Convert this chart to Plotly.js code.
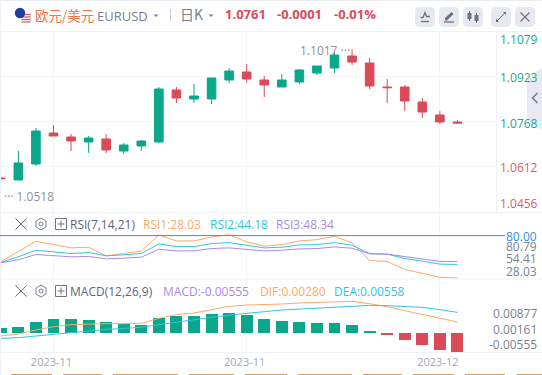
<!DOCTYPE html>
<html><head><meta charset="utf-8">
<script src="https://cdn.plot.ly/plotly-3.0.1.min.js"></script>
<style>html,body{margin:0;padding:0;background:#fff;overflow:hidden}#c{width:542px;height:375px}</style>
</head><body><div id="c"></div>
<script>
var idx=[0,1,2,3,4,5,6,7,8,9,10,11,12,13,14,15,16,17,18,19,20,21,22,23,24,25,26];
var opens=[1.05728,1.05659,1.06212,1.07283,1.07145,1.06972,1.07076,1.06661,1.06834,1.06972,1.08769,1.08458,1.08458,1.09115,1.09391,1.09115,1.08873,1.09046,1.09357,1.09530,1.09944,1.09702,1.08873,1.08873,1.08354,1.07905,1.07663];
var closes=[1.05705,1.06246,1.07352,1.07179,1.07007,1.07110,1.06696,1.06868,1.07007,1.08804,1.08493,1.08562,1.09184,1.09426,1.09149,1.08942,1.09115,1.09460,1.09599,1.09979,1.09737,1.08907,1.08850,1.08389,1.08009,1.07663,1.07629];
var highs=[1.05770,1.06660,1.07456,1.07560,1.07249,1.07179,1.07249,1.06938,1.07041,1.08873,1.08873,1.08977,1.09184,1.09530,1.09668,1.09253,1.09322,1.09495,1.09599,1.10083,1.10175,1.09875,1.09149,1.08942,1.08493,1.08043,1.07732];
var lows=[1.05680,1.05659,1.06143,1.07179,1.06661,1.06592,1.06592,1.06557,1.06661,1.06938,1.08320,1.08320,1.08285,1.09011,1.09011,1.08527,1.08873,1.08977,1.09288,1.09357,1.09633,1.08804,1.08320,1.08043,1.07802,1.07594,1.07594];
var rsi1=[47.90,60.06,73.04,68.99,64.93,65.74,55.20,58.04,60.87,80.75,73.45,73.45,78.31,81.15,72.23,66.96,68.99,73.45,75.07,79.12,71.01,49.52,48.30,38.57,33.71,28.84,28.03];
var rsi2=[47.09,53.98,62.09,60.06,58.04,59.25,55.20,56.42,58.04,69.80,66.55,66.55,70.20,71.42,67.77,64.93,65.74,68.58,68.99,71.42,68.17,58.04,57.23,51.95,48.71,45.06,44.65];
var rsi3=[46.68,50.33,56.82,55.20,53.98,54.39,51.55,52.36,53.58,63.31,61.28,61.28,64.12,64.93,62.90,61.28,62.09,63.71,64.12,66.15,64.52,57.63,57.23,53.98,51.14,48.30,48.30];
var macdBars=[0.00146,0.00175,0.00321,0.00409,0.00409,0.00380,0.00321,0.00263,0.00234,0.00438,0.00497,0.00497,0.00555,0.00584,0.00526,0.00409,0.00351,0.00321,0.00292,0.00292,0.00234,0.00058,-0.00058,-0.00205,-0.00351,-0.00497,-0.00555];
var dif=[-0.00088,-0.00029,0.00088,0.00185,0.00244,0.00263,0.00273,0.00273,0.00282,0.00429,0.00536,0.00584,0.00692,0.00779,0.00818,0.00828,0.00847,0.00877,0.00896,0.00925,0.00925,0.00857,0.00769,0.00653,0.00545,0.00419,0.00321];
var dea=[-0.00156,-0.00136,-0.00088,-0.00039,0.00019,0.00068,0.00107,0.00136,0.00166,0.00244,0.00321,0.00380,0.00458,0.00526,0.00584,0.00623,0.00672,0.00701,0.00731,0.00760,0.00789,0.00808,0.00799,0.00779,0.00750,0.00682,0.00604];
var dateTicks=[3,14,25];
var dateLabels=['2023-11','2023-11','2023-12'];
var priceTicks=[1.1079,1.0923,1.0768,1.0612,1.0456];
var priceLabels=['1.1079','1.0923','1.0768','1.0612','1.0456'];
var rsiLabels=['80.00','80.79','54.41','28.03'];
var macdLabels=['0.00877','0.00161','-0.00555'];

var W=542,H=375,GREEN='#0aa78a',RED='#da4b59',GRID='#f5f6fa',BORDER='#eff1f6';
var ORANGE='#fda866',CYAN='#33c5e0',PURPLE='#a88ae6',GRAY='#7b7f8e',LGRAY='#a3a6b6';
var FONT='"Open Sans","Noto Sans CJK SC",sans-serif';
function fx(x){return x/W} function fy(y){return 1-y/H}
function dom(a,b){return [1-b/H,1-a/H]}
var barColors=macdBars.map(function(v){return v>=0?GREEN:RED});
var xr=[-0.0456,28.23];
function line(y,color,name,xa,ya){return {type:'scatter',mode:'lines',x:idx,y:y,name:name,xaxis:xa,yaxis:ya,line:{color:color,width:1,shape:'linear'},hoverinfo:'skip',cliponaxis:true}}
var traces=[
 {type:'candlestick',x:idx,open:opens,high:highs,low:lows,close:closes,xaxis:'x',yaxis:'y',whiskerwidth:0,width:0.6,name:'EURUSD',
  increasing:{line:{color:GREEN,width:1},fillcolor:GREEN},decreasing:{line:{color:RED,width:1},fillcolor:RED}},
 line(rsi1,ORANGE,'RSI1','x2','y2'),line(rsi2,CYAN,'RSI2','x2','y2'),line(rsi3,PURPLE,'RSI3','x2','y2'),
 {type:'bar',x:idx,y:macdBars,name:'MACD',xaxis:'x3',yaxis:'y3',width:0.68,marker:{color:barColors,line:{width:0}}},
 line(dif,ORANGE,'DIF','x3','y3'),line(dea,CYAN,'DEA','x3','y3')
];
function xa(extra){var o={range:xr,domain:[0,496.6/W],showgrid:true,gridcolor:GRID,gridwidth:1,zeroline:false,showline:false,ticks:'',tickmode:'array',tickvals:dateTicks,ticktext:dateLabels,showticklabels:false,rangeslider:{visible:false},fixedrange:true};for(var k in extra)o[k]=extra[k];return o}
function ya(d,r,vals){return {domain:d,range:r,side:'right',showgrid:true,gridcolor:GRID,zeroline:false,showline:false,ticks:'',tickmode:'array',tickvals:vals,showticklabels:false,fixedrange:true}}

var shapes=[];
function hl(x0,x1,y,c,w){shapes.push({type:'line',xref:'paper',yref:'paper',x0:fx(x0),x1:fx(x1),y0:fy(y),y1:fy(y),line:{color:c,width:w||1}})}
function vl(x,y0,y1,c,w){shapes.push({type:'line',xref:'paper',yref:'paper',x0:fx(x),x1:fx(x),y0:fy(y0),y1:fy(y1),line:{color:c,width:w||1}})}
function pth(pts,fill,stroke,w,close){var s='';pts.forEach(function(p,i){s+=(i?'L':'M')+fx(p[0]).toFixed(5)+','+fy(p[1]).toFixed(5)});if(close)s+='Z';
 shapes.push({type:'path',xref:'paper',yref:'paper',path:s,fillcolor:fill||'rgba(0,0,0,0)',line:{color:stroke||'rgba(0,0,0,0)',width:w===undefined?1:w}})}
function rrect(x0,y0,x1,y1,r,c){var p=[],n=5;[[x1-r,y0+r,-90],[x1-r,y1-r,0],[x0+r,y1-r,90],[x0+r,y0+r,180]].forEach(function(a){for(var i=0;i<=n;i++){var t=(a[2]+i*90/n)*Math.PI/180;p.push([a[0]+r*Math.cos(t),a[1]+r*Math.sin(t)])}});pth(p,c,null,0,true)}
function circ(cx,cy,r,c,st){shapes.push({type:'circle',xref:'paper',yref:'paper',x0:fx(cx-r),x1:fx(cx+r),y0:fy(cy+r),y1:fy(cy-r),fillcolor:c,line:{color:st||c,width:st?1:0}})}
function rect(x0,y0,x1,y1,c){shapes.push({type:'rect',xref:'paper',yref:'paper',x0:fx(x0),x1:fx(x1),y0:fy(y0),y1:fy(y1),fillcolor:c,line:{width:0}})}

// frame
rect(0,0,W,1,'#e9ebf2'); rect(0,0,1,375,'#eef0f6');
hl(0,W,31.5,BORDER,1);hl(0,W,212.5,BORDER,1);hl(0,W,279,BORDER,1);hl(0,W,352.5,BORDER,1);
vl(496.5,32,212,BORDER,1);
// RSI 80 line
shapes.push({type:'line',xref:'paper',yref:'y2',x0:0,x1:fx(505),y0:80,y1:80,line:{color:'#3b8fe3',width:1}});
// side tab
pth([[542,68],[527,77],[527,120],[542,130]],'rgba(228,229,238,0.8)',null,0,true);
pth([[537.5,93],[532.5,98],[537.5,103]],null,'#73778a',1.5);
// flags
circ(26,18,5.2,'#f4f4f6');
[14.5,17,19.5,22].forEach(function(y){hl(21.5,30.7,y,'#d9596a',1.2)});
circ(20,13,5.2,'#1f3f9e');
// dropdown carets
pth([[153.5,14.5],[158.5,14.5],[156,17]],'#7b7f8e',null,0,true);
pth([[208.5,14.5],[213.5,14.5],[211,17]],'#7b7f8e',null,0,true);
vl(170.5,9,21,'#c9ccd6',1);
// toolbar buttons
[[415,435],[439,459],[463,483],[491,511],[515,535]].forEach(function(b){rrect(b[0],7,b[1],27,4,'#e6e9f0')});
var IC='#6d7182';
pth([[421,21.5],[429,21.5]],null,IC,1.3);
pth([[420.5,17.5],[423,17.5],[425,12.5],[426.5,16.5],[430,16.5]],null,IC,1.3);
pth([[444,22],[454,22]],null,IC,1.3);
pth([[445,20.5],[445,18],[451.5,12],[453.5,14],[447,20.5]],IC,null,0,true);
vl(469.5,11,21,IC,1);vl(476.5,13,23,IC,1);rect(467.5,13,471.5,19,IC);rect(474.5,15,478.5,21,IC);
pth([[496,22],[496,19],[499,22]],IC,null,0,true);pth([[506,12],[503,12],[506,15]],IC,null,0,true);
pth([[497,21],[505,13]],null,IC,1);
pth([[520.5,12.5],[529.5,21.5]],null,IC,1.1);pth([[529.5,12.5],[520.5,21.5]],null,IC,1.1);
// pane controls
function ctrl(y){
 pth([[15.5,y-5.5],[26.5,y+5.5]],null,'#6d7182',1);pth([[26.5,y-5.5],[15.5,y+5.5]],null,'#6d7182',1);
 pth([[41,y-6],[46,y-3],[46,y+3],[41,y+6],[36,y+3],[36,y-3]],null,'#7b7f8e',1,true);
 circ(41,y,2,'rgba(0,0,0,0)','#7b7f8e');
 pth([[55.5,y-5.5],[66.5,y-5.5],[66.5,y+5.5],[55.5,y+5.5]],null,'#6d7182',1,true);
 pth([[57.5,y],[64.5,y]],null,'#6d7182',1);pth([[61,y-3.5],[61,y+3.5]],null,'#6d7182',1);
}
ctrl(224);ctrl(291);
// bottom strip
[[11,52],[63,102],[113,178],[189,234],[245,287],[298,352],[363,402],[413,454],[465,505],[517,542]].forEach(function(s){rect(s[0],374,s[1],375,'#c9a56c')});

var ann=[];
function txt(x,y,t,c,size,anchor,bold,font){ann.push({xref:'paper',yref:'paper',x:fx(x),y:fy(y),text:bold?'<b>'+t+'</b>':t,showarrow:false,xanchor:anchor||'left',yanchor:'middle',font:{color:c,size:size||13,family:font||FONT},borderpad:0,borderwidth:0})}
var PG='#17a98f',PR='#dc5a66';
txt(538,39.5,priceLabels[0],PG,12,'right');
txt(538,77.5,priceLabels[1],PG,12,'right');
txt(538,123,priceLabels[2],PG,12,'right');
txt(538,168,priceLabels[3],PR,12,'right');
txt(538,203,priceLabels[4],PR,12,'right');
ann.push({xref:'x',yref:'y',x:20,y:1.1017,text:'1.1017 \u00b7\u00b7\u00b7',showarrow:false,xanchor:'right',yanchor:'middle',yshift:-1.5,font:{color:'#8d909f',size:12,family:FONT}});
ann.push({xref:'paper',yref:'y',x:fx(2),y:1.0518,text:'\u00b7\u00b7\u00b7 1.0518',showarrow:false,xanchor:'left',yanchor:'middle',yshift:-3,font:{color:'#8d909f',size:12,family:FONT}});
var CJK='"Noto Sans CJK SC","Open Sans",sans-serif';
txt(35,15,'欧元/美元','#f4754a',13.5,'left',false,CJK);
txt(97,15.5,'EURUSD',GRAY,13);
txt(180,14.5,'日K',GRAY,14,'left',false,CJK);
txt(225,14.5,'1.0761',RED,13,'left',true);
txt(277,14.5,'-0.0001',RED,13,'left',true);
txt(334,14.5,'-0.01%',RED,13,'left',true);
txt(70,224.5,'RSI(7,14,21)','#5f6373',12);
txt(143,224.5,'RSI1:28.03',ORANGE,12);
txt(210,224.5,'RSI2:44.18',CYAN,12);
txt(276,224.5,'RSI3:48.34',PURPLE,12);
txt(70,291.5,'MACD(12,26,9)','#5f6373',12);
txt(163,291.5,'MACD:-0.00555',PURPLE,12);
txt(260,291.5,'DIF:0.00280',ORANGE,12);
txt(334,291.5,'DEA:0.00558',CYAN,12);
txt(537,236,rsiLabels[0],'#2d8fe6',12,'right');
txt(537,246,rsiLabels[1],GRAY,12,'right');
txt(537,258.5,rsiLabels[2],GRAY,12,'right');
txt(537,271.5,rsiLabels[3],GRAY,12,'right');
txt(537,313.5,macdLabels[0],GRAY,12,'right');
txt(537,329,macdLabels[1],GRAY,12,'right');
txt(537,344,macdLabels[2],GRAY,12,'right');

var layout={width:W,height:H,margin:{l:0,r:0,t:0,b:0,pad:0},paper_bgcolor:'#fff',plot_bgcolor:'#fff',showlegend:false,bargap:0,hovermode:false,dragmode:false,
 font:{family:FONT},
 xaxis:xa({anchor:'y'}),
 xaxis2:xa({anchor:'y2',matches:'x'}),
 xaxis3:xa({anchor:'y3',matches:'x',showticklabels:true,tickfont:{color:LGRAY,size:11,family:FONT},ticklabelstandoff:1,ticklabelshift:-2}),
 yaxis:ya(dom(32,211),[1.04587,1.10774],[1.0923,1.0768,1.0612]),
 yaxis2:ya(dom(212.5,279),[26.8,108.3],[]),
 yaxis3:ya(dom(279,352.5),[-0.00569,0.01578],[]),
 shapes:shapes,annotations:ann};
Plotly.newPlot('c',traces,layout,{displayModeBar:false,staticPlot:true});
</script></body></html>
